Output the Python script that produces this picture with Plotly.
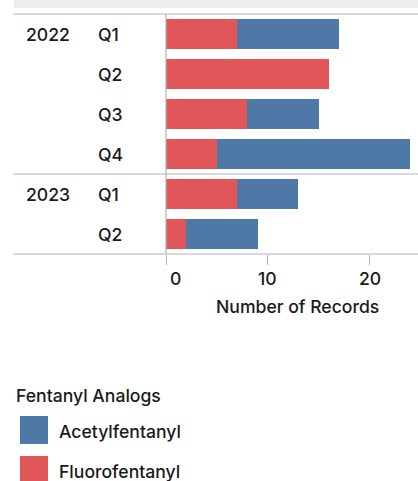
import plotly.graph_objects as go

# ---- data ----
years = ["2022", "2022", "2022", "2022", "2023", "2023"]
quarters = ["Q1", "Q2", "Q3", "Q4", "Q1", "Q2"]
fluorofentanyl = [7, 16, 8, 5, 7, 2]
acetylfentanyl = [10, 0, 7, 19, 6, 7]
x_ticks = [0, 10, 20]
x_title = "Number of Records"
legend_title = "Fentanyl Analogs"
series_names = ["Acetylfentanyl", "Fluorofentanyl"]
colors = {"Acetylfentanyl": "#4E79A7", "Fluorofentanyl": "#E15759"}

W, H = 418, 481
L, R, T, B = 166, 0, 14, 481 - 254
PW, PH = W - L - R, H - T - B

def px(x):  # pixel x -> paper
    return (x - L) / PW

def py(y):  # pixel y -> paper
    return (H - B - y) / PH

cats = [f"{y} {q}" for y, q in zip(years, quarters)]
FONT = "Inter"
FS = 17.6
WT = 500
TXT = "#1a1a1a"
GRID = "#b4b4b4"

def f():
    return dict(size=FS, color=TXT, family=FONT, weight=WT)

fig = go.Figure()
fig.add_trace(go.Bar(y=cats, x=fluorofentanyl, orientation="h", name="Fluorofentanyl",
                     marker=dict(color=colors["Fluorofentanyl"], line=dict(width=0)), showlegend=False))
fig.add_trace(go.Bar(y=cats, x=acetylfentanyl, orientation="h", name="Acetylfentanyl",
                     marker=dict(color=colors["Acetylfentanyl"], line=dict(width=0)), showlegend=False))

ann = []
shapes = []
seen = set()
for c, yv, q in zip(cats, years, quarters):
    ann.append(dict(x=px(96), y=c, xref="paper", yref="y", text=q, showarrow=False,
                    xanchor="left", yanchor="middle", font=f()))
    if yv not in seen:
        seen.add(yv)
        ann.append(dict(x=px(24), y=c, xref="paper", yref="y", text=yv, showarrow=False,
                        xanchor="left", yanchor="middle", font=f()))
        if len(seen) > 1:
            idx = cats.index(c)
            shapes.append(dict(type="line", xref="paper", yref="y", x0=px(13), x1=1,
                               y0=idx - 0.5, y1=idx - 0.5, line=dict(color=GRID, width=1.2)))

# tick labels
for i, t in enumerate(x_ticks):
    ann.append(dict(x=t, y=py(278), xref="x", yref="paper", text=str(t), showarrow=False,
                    xanchor="left" if i == 0 else "center", xshift=2 if i == 0 else 0,
                    yanchor="middle", font=f()))
ann.append(dict(x=px(297), y=py(306), xref="paper", yref="paper", text=x_title, showarrow=False,
                xanchor="center", yanchor="middle", font=f()))

# legend
ann.append(dict(x=px(14), y=py(395), xref="paper", yref="paper", text=legend_title, showarrow=False,
                xanchor="left", yanchor="middle", font=f()))
for i, name in enumerate(series_names):
    top = 416 + i * 40
    shapes.append(dict(type="rect", xref="paper", yref="paper", x0=px(20), x1=px(48),
                       y0=py(top + 28), y1=py(top), fillcolor=colors[name], line=dict(width=0)))
    ann.append(dict(x=px(57), y=py(top + 15), xref="paper", yref="paper", text=name, showarrow=False,
                    xanchor="left", yanchor="middle", font=f()))

# header band and frame lines
shapes.append(dict(type="rect", xref="paper", yref="paper", x0=px(14), x1=1, y0=py(8), y1=py(-2),
                   fillcolor="#ecedf1", line=dict(width=0), layer="below"))
shapes.append(dict(type="line", xref="paper", yref="paper", x0=px(13), x1=1, y0=1, y1=1,
                   line=dict(color=GRID, width=1.2)))
shapes.append(dict(type="line", xref="paper", yref="paper", x0=px(13), x1=1, y0=0, y1=0,
                   line=dict(color=GRID, width=1.2)))
shapes.append(dict(type="line", xref="paper", yref="paper", x0=0, x1=0, y0=0, y1=1,
                   line=dict(color=GRID, width=1.2)))

fig.update_layout(
    width=W, height=H, margin=dict(l=L, r=R, t=T, b=B),
    barmode="stack", bargap=0.25,
    paper_bgcolor="white", plot_bgcolor="white",
    annotations=ann, shapes=shapes,
    font=f(),
    xaxis=dict(range=[0, 24.75], tickvals=x_ticks, showticklabels=False, ticks="outside",
               ticklen=10, tickwidth=1.2, tickcolor=GRID, showgrid=False, zeroline=False,
               showline=False, fixedrange=True),
    yaxis=dict(categoryorder="array", categoryarray=cats, autorange="reversed",
               showticklabels=False, showgrid=False, zeroline=False, showline=False,
               ticks="", fixedrange=True),
)
fig.write_html("out.html", config={"displayModeBar": False})

# remove default browser body margin so the figure sits at the window origin
with open("out.html", encoding="utf-8") as fh:
    html = fh.read()
html = html.replace("<body>", '<body style="margin:0;overflow:hidden">', 1)
with open("out.html", "w", encoding="utf-8") as fh:
    fh.write(html)
